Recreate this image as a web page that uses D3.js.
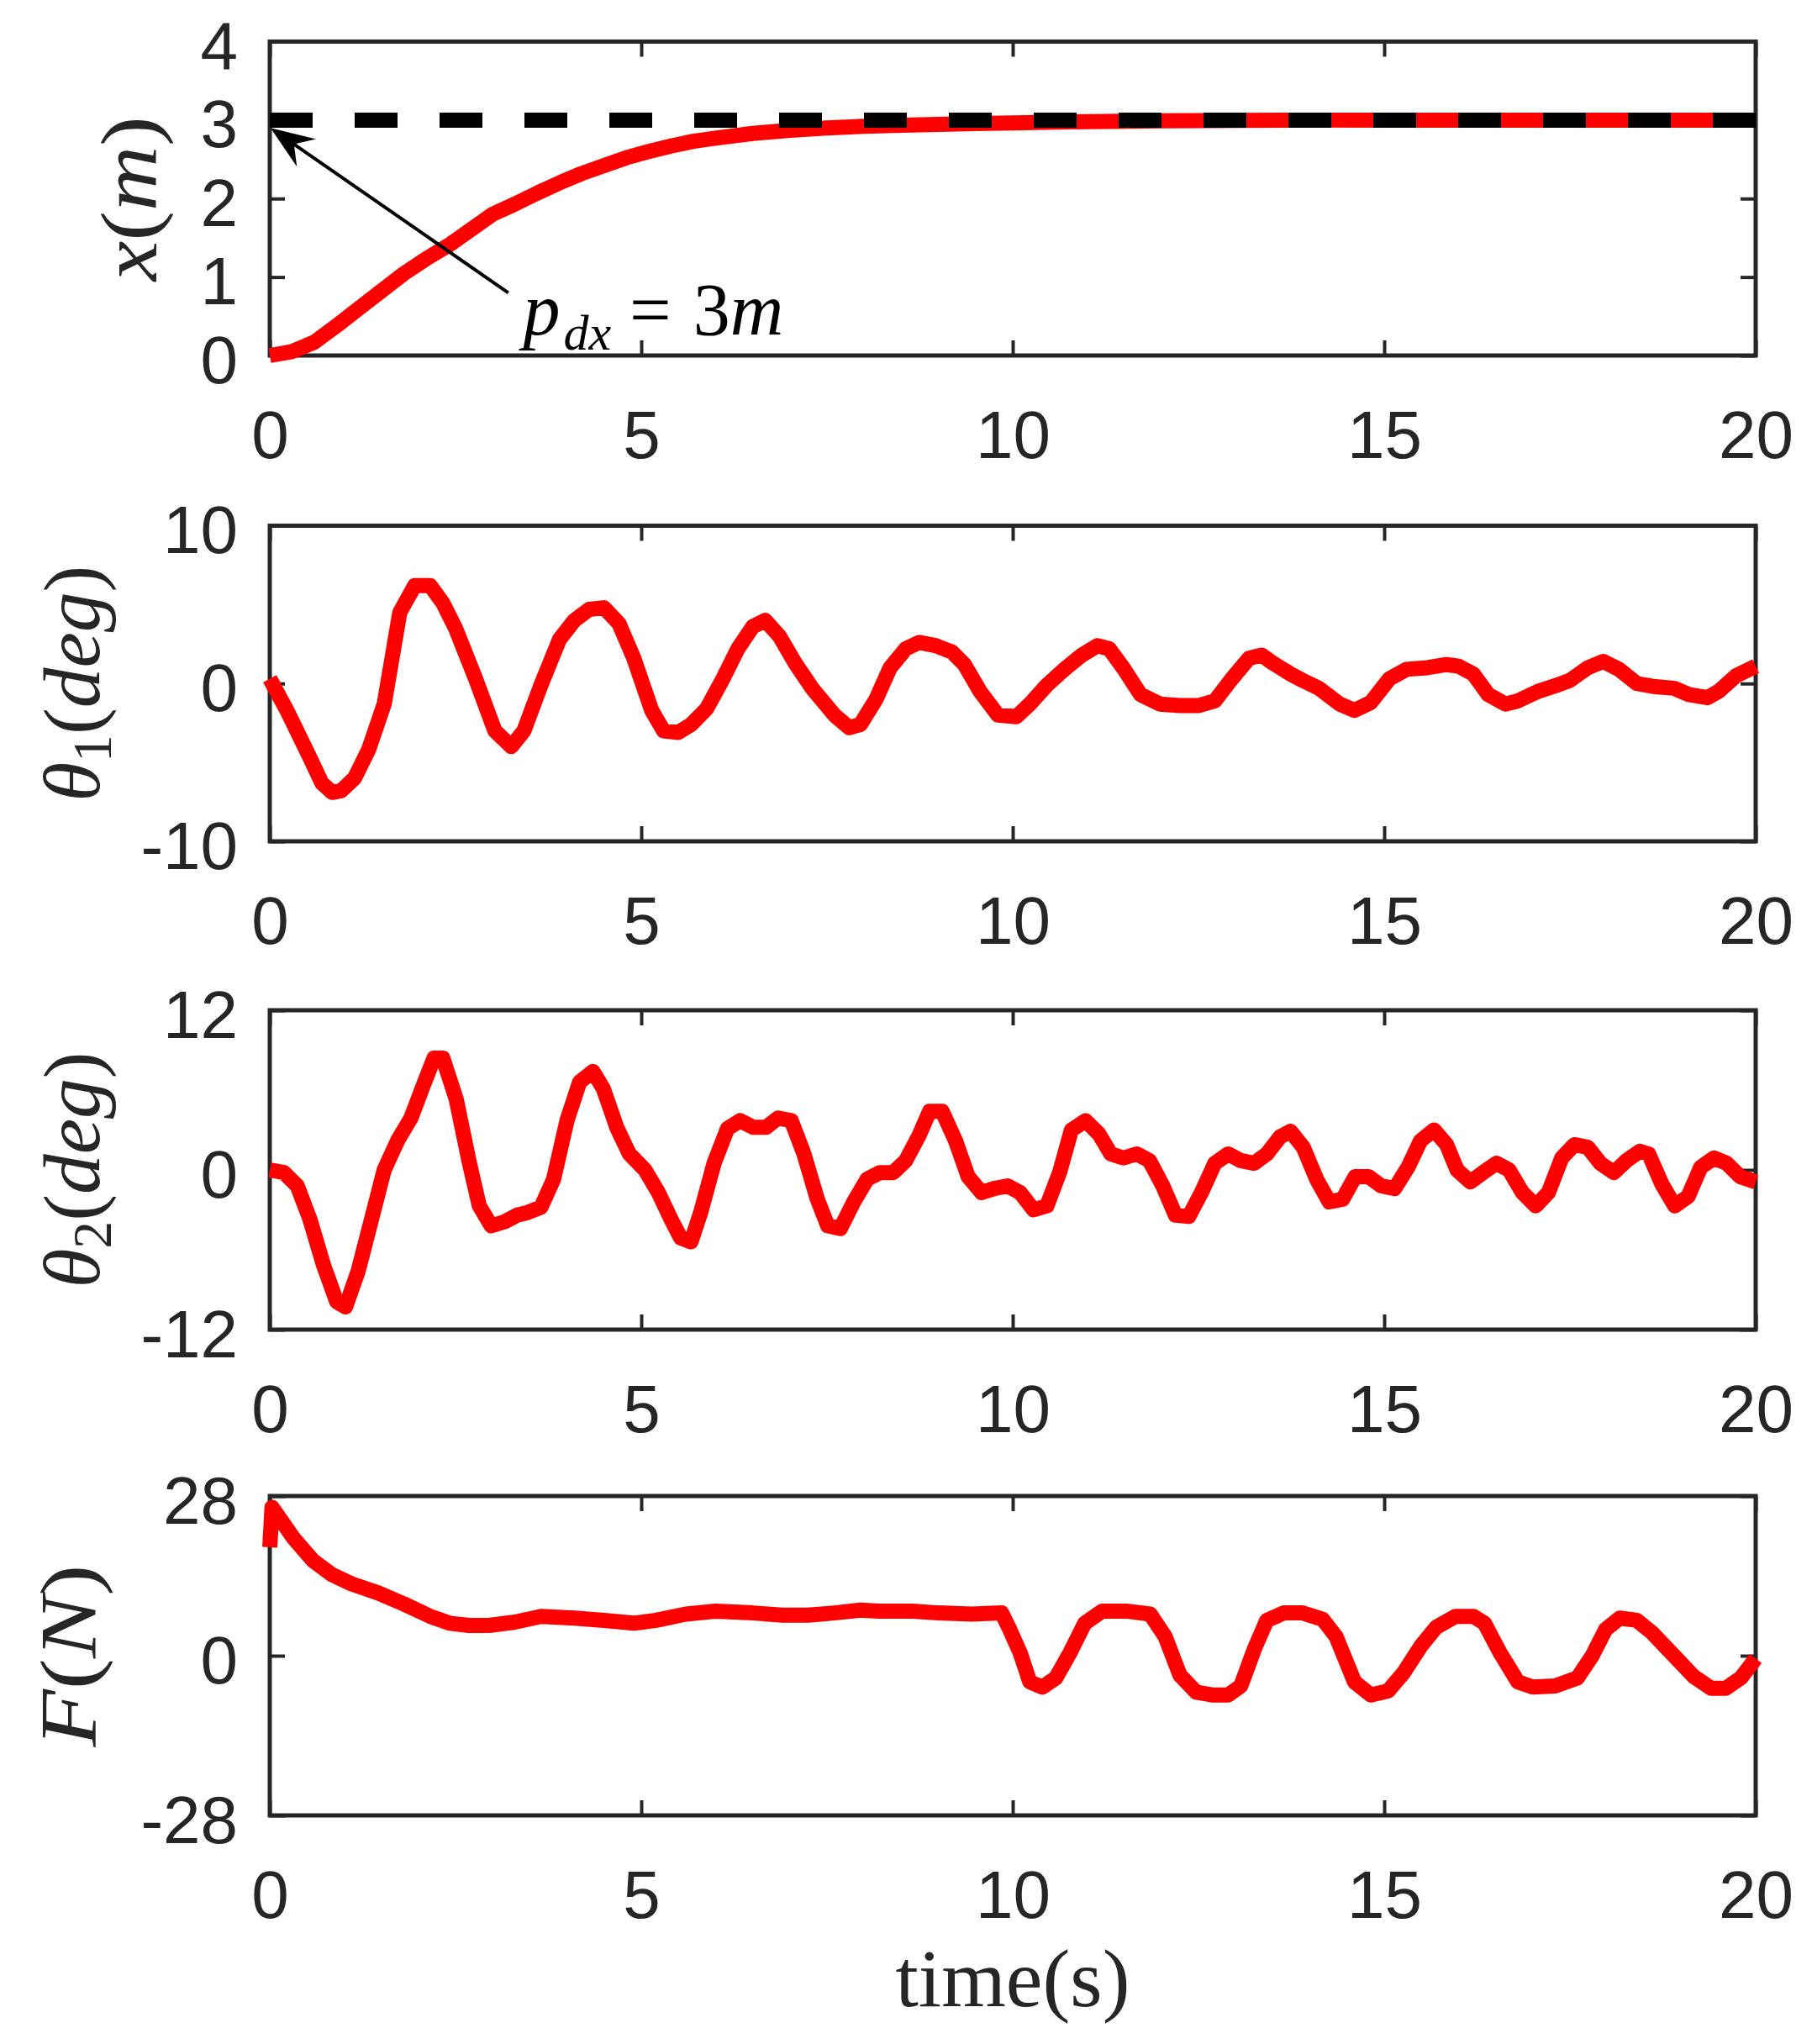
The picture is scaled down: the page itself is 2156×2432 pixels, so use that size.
<!DOCTYPE html>
<html>
<head>
<meta charset="utf-8">
<script src="https://cdn.jsdelivr.net/npm/d3@7"></script>
<style>
  html, body { margin: 0; padding: 0; background: #fff; }
  svg { display: block; }
</style>
</head>
<body>
<svg id="chart" width="2156" height="2432"></svg>
<script>
// ---------------- DATA ----------------
const timeTicks = [0, 5, 10, 15, 20];

const posTime = [0, 0.3, 0.6, 0.9, 1.2, 1.5, 1.8, 2.1, 2.4, 2.7, 3.0, 3.3, 3.6, 3.9, 4.2, 4.5, 4.8, 5.1, 5.4, 5.7, 6.0, 6.5, 7.0, 7.5, 8.0, 8.5, 9.0, 9.5, 10, 11, 12, 13, 14, 15, 16, 17, 18, 19, 20];
const posX    = [0, 0.05, 0.17, 0.38, 0.6, 0.82, 1.04, 1.23, 1.4, 1.6, 1.8, 1.93, 2.07, 2.2, 2.32, 2.42, 2.52, 2.6, 2.67, 2.73, 2.77, 2.83, 2.87, 2.9, 2.92, 2.935, 2.945, 2.955, 2.965, 2.98, 2.99, 2.995, 3, 3, 3, 3, 3, 3, 3];
const posTarget = 3;
const posTicks = [0, 1, 2, 3, 4];

const th1Time = [0, 0.23, 0.53, 0.7, 0.84, 0.96, 1.14, 1.33, 1.54, 1.75, 1.95, 2.16, 2.33, 2.5, 2.77, 3.03, 3.25, 3.42, 3.65, 3.9, 4.1, 4.3, 4.5, 4.7, 4.9, 5.14, 5.3, 5.5, 5.67, 5.88, 6.1, 6.3, 6.5, 6.67, 6.86, 7.07, 7.3, 7.6, 7.8, 7.95, 8.16, 8.35, 8.56, 8.74, 8.96, 9.18, 9.35, 9.56, 9.8, 10.05, 10.23, 10.46, 10.72, 10.93, 11.14, 11.3, 11.5, 11.72, 11.98, 12.25, 12.5, 12.72, 12.95, 13.18, 13.35, 13.5, 13.74, 13.9, 14.12, 14.4, 14.6, 14.82, 15.07, 15.3, 15.58, 15.84, 16.0, 16.2, 16.4, 16.63, 16.8, 17.07, 17.33, 17.5, 17.74, 17.95, 18.16, 18.4, 18.65, 18.9, 19.1, 19.35, 19.5, 19.74, 20];
const theta1  = [0.3, -1.7, -4.6, -6.3, -6.9, -6.8, -6.0, -4.2, -1.3, 4.5, 6.2, 6.2, 5.1, 3.5, 0.3, -3.0, -4.0, -3.0, -0.1, 2.8, 4.0, 4.7, 4.8, 3.8, 1.6, -1.7, -3.0, -3.1, -2.6, -1.6, 0.3, 2.2, 3.6, 4.0, 3.0, 1.3, -0.3, -2.0, -2.8, -2.6, -1.0, 1.0, 2.2, 2.6, 2.4, 2.0, 1.2, -0.5, -2.0, -2.1, -1.3, -0.1, 1.0, 1.8, 2.4, 2.2, 0.9, -0.7, -1.3, -1.4, -1.4, -1.1, 0.3, 1.6, 1.8, 1.3, 0.6, 0.2, -0.3, -1.3, -1.7, -1.2, 0.3, 0.9, 1.0, 1.2, 1.1, 0.6, -0.7, -1.3, -1.1, -0.5, -0.1, 0.2, 1.0, 1.4, 0.9, 0.0, -0.2, -0.3, -0.7, -0.9, -0.5, 0.5, 1.1];
const theta1Ticks = [-10, 0, 10];

const th2Time = [0, 0.19, 0.37, 0.54, 0.72, 0.9, 1.02, 1.19, 1.37, 1.54, 1.72, 1.9, 2.07, 2.21, 2.33, 2.51, 2.68, 2.82, 2.98, 3.16, 3.33, 3.47, 3.65, 3.82, 4.0, 4.17, 4.35, 4.49, 4.67, 4.84, 5.05, 5.23, 5.4, 5.53, 5.67, 5.8, 5.98, 6.16, 6.33, 6.51, 6.68, 6.84, 7.02, 7.19, 7.37, 7.51, 7.68, 7.86, 8.04, 8.21, 8.39, 8.56, 8.74, 8.88, 9.05, 9.23, 9.4, 9.58, 9.75, 9.93, 10.1, 10.28, 10.46, 10.63, 10.79, 10.98, 11.16, 11.32, 11.49, 11.67, 11.84, 12.02, 12.19, 12.37, 12.54, 12.72, 12.9, 13.07, 13.25, 13.42, 13.6, 13.74, 13.91, 14.09, 14.26, 14.44, 14.61, 14.79, 14.96, 15.14, 15.32, 15.49, 15.67, 15.84, 15.98, 16.16, 16.33, 16.51, 16.68, 16.86, 17.04, 17.21, 17.39, 17.56, 17.74, 17.91, 18.09, 18.26, 18.44, 18.56, 18.74, 18.91, 19.09, 19.26, 19.44, 19.61, 19.79, 20];
const theta2  = [0, -0.2, -1.2, -3.7, -7.1, -9.9, -10.3, -7.6, -3.7, 0, 2.2, 3.9, 6.4, 8.4, 8.4, 5.3, 0.7, -2.7, -4.2, -3.9, -3.4, -3.2, -2.8, -0.7, 3.7, 6.6, 7.4, 6.1, 3.2, 1.2, 0, -1.7, -3.7, -5.1, -5.4, -3.2, 0.5, 3.1, 3.7, 3.2, 3.2, 3.9, 3.7, 1.2, -2.2, -4.2, -4.4, -2.4, -0.7, -0.2, -0.2, 0.7, 2.6, 4.4, 4.4, 2.2, -0.5, -1.7, -1.4, -1.2, -1.7, -3.0, -2.7, -0.2, 3.0, 3.7, 2.7, 1.2, 0.9, 1.2, 0.7, -1.2, -3.4, -3.5, -1.7, 0.5, 1.2, 0.7, 0.5, 1.2, 2.5, 2.9, 1.7, -0.7, -2.4, -2.2, -0.5, -0.5, -1.2, -1.4, 0.2, 2.2, 3.0, 1.9, 0, -0.9, -0.2, 0.5, 0, -1.7, -2.7, -1.7, 0.9, 1.9, 1.7, 0.5, -0.2, 0.7, 1.4, 1.2, -1.1, -2.7, -2.0, 0.2, 0.9, 0.5, -0.5, -0.9];
const theta2Ticks = [-12, 0, 12];

const fTime = [0, 0.03, 0.14, 0.32, 0.58, 0.84, 1.1, 1.46, 1.8, 2.16, 2.42, 2.68, 2.95, 3.3, 3.65, 4.1, 4.5, 4.9, 5.2, 5.6, 6.0, 6.5, 6.9, 7.25, 7.6, 7.95, 8.2, 8.65, 9.0, 9.45, 9.85, 9.96, 10.1, 10.23, 10.4, 10.58, 10.77, 10.97, 11.2, 11.55, 11.85, 12.05, 12.25, 12.47, 12.7, 12.9, 13.07, 13.25, 13.42, 13.65, 13.9, 14.17, 14.35, 14.6, 14.82, 15.05, 15.26, 15.5, 15.7, 15.96, 16.2, 16.35, 16.56, 16.8, 17.0, 17.3, 17.6, 17.8, 17.98, 18.17, 18.4, 18.6, 18.9, 19.17, 19.4, 19.6, 19.8, 20];
const force = [19, 26, 24, 20.6, 16.7, 14.2, 12.6, 11, 9.1, 6.9, 5.7, 5.3, 5.3, 5.9, 6.9, 6.6, 6.2, 5.7, 6.2, 7.3, 7.8, 7.5, 7.1, 7.1, 7.5, 8.0, 7.8, 7.8, 7.5, 7.3, 7.5, 4.6, 0.5, -4.6, -5.5, -3.9, 0.5, 5.7, 7.8, 7.8, 7.3, 3.4, -3.4, -6.4, -6.9, -6.9, -5.3, 1.1, 6.2, 7.5, 7.5, 6.4, 3.4, -4.6, -6.9, -6.2, -3.0, 1.8, 5.0, 6.9, 6.9, 5.7, 0.5, -4.6, -5.5, -5.3, -3.9, 0, 4.6, 6.6, 6.2, 4.1, 0, -3.7, -5.7, -5.7, -3.9, -0.5];
const forceTicks = [-28, 0, 28];

// ---------------- LAYOUT ----------------
const svg = d3.select("#chart");
const axisColor = "#262626";
const left = 321, right = 2089;
const panels = [
  { top: 49.5, bottom: 423, t: posTime, v: posX, ticks: posTicks, domain: [0, 4] },
  { top: 625.5, bottom: 1001, t: th1Time, v: theta1, ticks: theta1Ticks, domain: [-10, 10] },
  { top: 1202, bottom: 1582, t: th2Time, v: theta2, ticks: theta2Ticks, domain: [-12, 12] },
  { top: 1780, bottom: 2160, t: fTime, v: force, ticks: forceTicks, domain: [-28, 28] }
];

const x = d3.scaleLinear().domain([0, 20]).range([left, right]);

function styleAxis(g, withText) {
  g.select(".domain").remove();
  g.selectAll(".tick line").attr("stroke", axisColor).attr("stroke-width", 4);
  if (withText) {
    g.selectAll(".tick text")
      .attr("fill", axisColor)
      .style("font-family", "'Liberation Sans', Arial, sans-serif")
      .style("font-size", "80px");
  } else {
    g.selectAll(".tick text").remove();
  }
}

panels.forEach((p, i) => {
  const y = d3.scaleLinear().domain(p.domain).range([p.bottom, p.top]);
  const g = svg.append("g");

  g.append("g").attr("transform", `translate(0,${p.bottom})`)
    .call(d3.axisBottom(x).tickValues(timeTicks).tickSize(-18).tickSizeOuter(0).tickPadding(65).tickFormat(d3.format("d")))
    .call(s => styleAxis(s, true));
  g.append("g").attr("transform", `translate(0,${p.top})`)
    .call(d3.axisTop(x).tickValues(timeTicks).tickSize(-18).tickSizeOuter(0))
    .call(s => styleAxis(s, false));
  g.append("g").attr("transform", `translate(${left},0)`)
    .call(d3.axisLeft(y).tickValues(p.ticks).tickSize(-18).tickSizeOuter(0).tickPadding(38).tickFormat(d => d < 0 ? "-" + Math.abs(d) : String(d)))
    .call(s => styleAxis(s, true))
    .call(s => s.selectAll(".tick text").attr("dy", "0.4em"));
  g.append("g").attr("transform", `translate(${right},0)`)
    .call(d3.axisRight(y).tickValues(p.ticks).tickSize(-18).tickSizeOuter(0))
    .call(s => styleAxis(s, false));

  g.append("rect")
    .attr("x", left).attr("y", p.top)
    .attr("width", right - left).attr("height", p.bottom - p.top)
    .attr("fill", "none").attr("stroke", axisColor).attr("stroke-width", 5);

  const line = d3.line().x(d => x(d[0])).y(d => y(d[1]));
  g.append("path")
    .datum(p.t.map((t, k) => [t, p.v[k]]))
    .attr("d", line)
    .attr("fill", "none")
    .attr("stroke", "#FF0000")
    .attr("stroke-width", 18)
    .attr("stroke-linejoin", "round");

  if (i === 0) {
    g.append("path")
      .datum([[0, posTarget], [20, posTarget]])
      .attr("d", line)
      .attr("fill", "none")
      .attr("stroke", "#000")
      .attr("stroke-width", 18)
      .attr("stroke-dasharray", "51,50");

    const tail = [x(3.21), y(0.80)];
    const tip = [x(0.01), y(2.90)];
    const dx = tip[0] - tail[0], dy = tip[1] - tail[1];
    const len = Math.hypot(dx, dy);
    const ux = dx / len, uy = dy / len;
    const headL = 52, headW = 20, notch = 34;
    const base = [tip[0] - ux * headL, tip[1] - uy * headL];
    g.append("line")
      .attr("x1", tail[0]).attr("y1", tail[1])
      .attr("x2", tip[0] - ux * notch).attr("y2", tip[1] - uy * notch)
      .attr("stroke", "#000").attr("stroke-width", 4);
    const pts = [
      tip,
      [base[0] - uy * headW, base[1] + ux * headW],
      [tip[0] - ux * notch, tip[1] - uy * notch],
      [base[0] + uy * headW, base[1] - ux * headW]
    ];
    g.append("polygon").attr("points", pts.map(q => q.join(",")).join(" ")).attr("fill", "#000");

    const ann = g.append("text")
      .attr("x", x(3.41)).attr("y", y(0.27))
      .attr("fill", "#000")
      .style("font-family", "'Liberation Serif', 'DejaVu Serif', serif")
      .style("font-size", "88px");
    ann.append("tspan").style("font-style", "italic").text("p");
    ann.append("tspan").style("font-style", "italic").style("font-size", "60px").attr("dy", 18).attr("dx", 4).text("dx");
    ann.append("tspan").attr("dy", -18).attr("dx", 22).text("=");
    ann.append("tspan").attr("dx", 26).text("3");
    ann.append("tspan").style("font-style", "italic").text("m");
  }
});

const serif = "'Liberation Serif', 'DejaVu Serif', serif";
function ylabel(p, bx, parts, len) {
  const cy = (p.top + p.bottom) / 2;
  const t = svg.append("text")
    .attr("transform", `translate(${bx},${cy}) rotate(-90)`)
    .attr("text-anchor", "middle")
    .attr("fill", axisColor)
    .style("font-family", serif)
    .style("font-size", "96px")
    .attr("textLength", len)
    .attr("lengthAdjust", "spacingAndGlyphs");
  parts.forEach(pt => {
    const s = t.append("tspan").text(pt.text);
    if (pt.italic) s.style("font-style", "italic");
    if (pt.sub) s.style("font-size", "66px").attr("dy", 14);
    if (pt.up) s.attr("dy", -14);
  });
}
ylabel(panels[0], 186, [{ text: "x", italic: true }, { text: "(" }, { text: "m", italic: true }, { text: ")" }], 196);
ylabel(panels[1], 118, [{ text: "θ", italic: true }, { text: "1", sub: true }, { text: "(", up: true }, { text: "deg", italic: true }, { text: ")" }], 281);
ylabel(panels[2], 118, [{ text: "θ", italic: true }, { text: "2", sub: true }, { text: "(", up: true }, { text: "deg", italic: true }, { text: ")" }], 281);
ylabel(panels[3], 114, [{ text: "F", italic: true }, { text: "(" }, { text: "N", italic: true }, { text: ")" }], 217);

svg.append("text")
  .attr("x", (left + right) / 2).attr("y", 2387)
  .attr("text-anchor", "middle")
  .attr("fill", axisColor)
  .style("font-family", serif)
  .style("font-size", "98px")
  .attr("textLength", 279)
  .attr("lengthAdjust", "spacingAndGlyphs")
  .text("time(s)");
</script>
</body>
</html>
